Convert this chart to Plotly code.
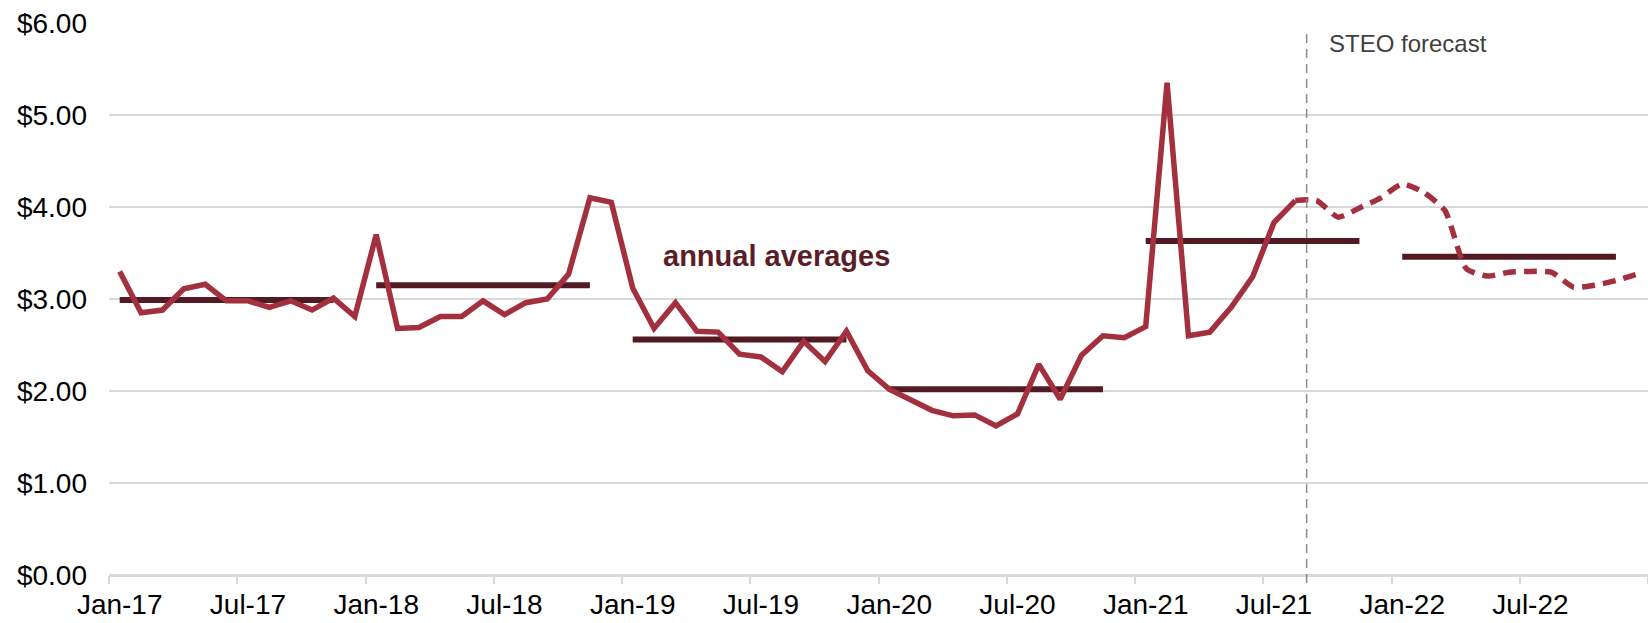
import plotly.graph_objects as go

# ---- data ----
months = [f"{m}-{y}" for y in ["17", "18", "19", "20", "21", "22"]
          for m in ["Jan", "Feb", "Mar", "Apr", "May", "Jun",
                    "Jul", "Aug", "Sep", "Oct", "Nov", "Dec"]]

historical = [
    3.30, 2.85, 2.88, 3.11, 3.16, 2.98, 2.98, 2.91, 2.98, 2.88, 3.01, 2.81,   # 2017
    3.70, 2.68, 2.69, 2.81, 2.81, 2.98, 2.83, 2.96, 3.00, 3.27, 4.10, 4.05,   # 2018
    3.12, 2.68, 2.96, 2.65, 2.64, 2.40, 2.37, 2.21, 2.54, 2.32, 2.65, 2.22,   # 2019
    2.02, 1.91, 1.79, 1.73, 1.74, 1.62, 1.75, 2.29, 1.91, 2.39, 2.60, 2.58,   # 2020
    2.70, 5.35, 2.60, 2.64, 2.91, 3.24, 3.83, 4.07,                           # 2021 Jan-Aug
]
forecast = [
    4.07, 4.07, 3.89, 3.99, 4.10,                                             # Aug-21..Dec-21
    4.25, 4.16, 3.96, 3.33, 3.25, 3.29, 3.30, 3.29, 3.13, 3.15, 3.20, 3.27,   # 2022
]
years = ["2017", "2018", "2019", "2020", "2021", "2022"]
annual_avg = [2.99, 3.15, 2.56, 2.02, 3.63, 3.46]

tick_labels = months[::6]
y_ticks = [0, 1, 2, 3, 4, 5, 6]
y_tick_text = [f"${v:.2f}" for v in y_ticks]

# ---- styles ----
LINE_RED = "#A3303F"
AVG_DARK = "#521B23"
GRID = "#D9D9D9"
FONT = "Liberation Sans, Arial, sans-serif"

x_all = list(range(len(months)))
x_hist = x_all[:len(historical)]
fc_start = len(historical) - 1
x_fc = x_all[fc_start:fc_start + len(forecast)]

fig = go.Figure()

# annual average lines (Jan..Nov centre of each year)
for k, (yr, avg) in enumerate(zip(years, annual_avg)):
    xs = [x_all[12 * k], x_all[12 * k + 10]]
    fig.add_trace(go.Scatter(
        x=xs, y=[avg, avg], mode="lines",
        line=dict(color=AVG_DARK, width=6),
        hoverinfo="skip", showlegend=False))

fig.add_trace(go.Scatter(
    x=x_hist, y=historical, mode="lines",
    line=dict(color=LINE_RED, width=5.5),
    showlegend=False))

fig.add_trace(go.Scatter(
    x=x_fc, y=forecast, mode="lines",
    line=dict(color=LINE_RED, width=5.5, dash="13px,8px", shape="spline", smoothing=0.6),
    showlegend=False))

# forecast divider
fig.add_shape(type="line", xref="x", yref="paper",
              x0=55.53, x1=55.53, y0=-0.0145, y1=0.987,
              line=dict(color="#8C8C8C", width=1.5, dash="9px,6px"))

fig.add_annotation(x=56.5, y=5.78, xref="x", yref="y", text="STEO forecast",
                   showarrow=False, xanchor="left", yanchor="middle",
                   font=dict(family=FONT, size=24, color="#404040"))

fig.add_annotation(x=30.75, y=3.47, xref="x", yref="y", text="<b>annual averages</b>",
                   showarrow=False, xanchor="center", yanchor="middle",
                   font=dict(family=FONT, size=29, color="#5A1E28"))

fig.update_layout(
    width=1648, height=623,
    margin=dict(l=109, r=0, t=23, b=48),
    paper_bgcolor="white", plot_bgcolor="white",
    font=dict(family=FONT, size=28, color="#000000"),
    xaxis=dict(
        range=[-0.5, len(months) - 0.5],
        automargin=False,
        tickmode="array",
        tickvals=x_all[::6], ticktext=tick_labels,
        ticks="", showgrid=False, zeroline=False, showline=False,
        ticklabelstandoff=10,
        minor=dict(tickmode="array",
                   tickvals=[v - 0.5 for v in x_all[::6]] + [len(months) - 0.5],
                   ticks="outside", ticklen=8, tickwidth=1.5, tickcolor=GRID,
                   showgrid=False),
        tickfont=dict(family=FONT, size=28, color="#000000"),
    ),
    yaxis=dict(
        range=[0, 6],
        automargin=False,
        tickmode="array", tickvals=y_ticks, ticktext=y_tick_text,
        showgrid=True, gridcolor=GRID, gridwidth=1.5,
        zeroline=True, zerolinecolor=GRID, zerolinewidth=2.5,
        showline=False, ticks="",
        ticklabelstandoff=21,
        tickfont=dict(family=FONT, size=28, color="#000000"),
    ),
)

fig.write_html(
    "out.html",
    config={"displayModeBar": False},
    post_script="document.body.style.margin='0';document.body.style.overflow='hidden';",
)
